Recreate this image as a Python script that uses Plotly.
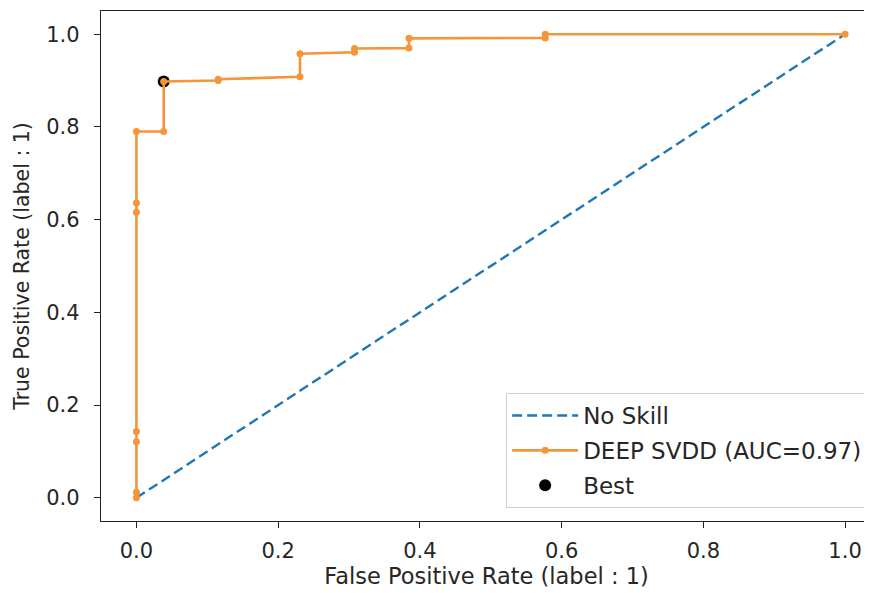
import plotly.graph_objects as go

# ROC data
no_skill_fpr = [0.0, 1.0]
no_skill_tpr = [0.0, 1.0]

fpr = [0.0, 0.0, 0.0, 0.0, 0.0, 0.0, 0.0, 0.0385, 0.0385, 0.1154, 0.1154,
       0.2308, 0.2308, 0.3077, 0.3077, 0.3846, 0.3846, 0.5769, 0.5769, 1.0]
tpr = [0.0, 0.012, 0.121, 0.143, 0.616, 0.636, 0.790, 0.790, 0.898, 0.900, 0.903,
       0.908, 0.958, 0.961, 0.969, 0.970, 0.991, 0.992, 1.0, 1.0]

best_fpr = [0.0385]
best_tpr = [0.898]

x_ticks = [0.0, 0.2, 0.4, 0.6, 0.8, 1.0]
y_ticks = [0.0, 0.2, 0.4, 0.6, 0.8, 1.0]

FONT = "DejaVu Sans"
TXT = "#262626"

fig = go.Figure()

fig.add_trace(go.Scatter(
    x=best_fpr, y=best_tpr, mode="markers", name="Best",
    marker=dict(color="black", size=12),
    legendrank=3, legendgroup="c",
))
fig.add_trace(go.Scatter(
    x=no_skill_fpr, y=no_skill_tpr, mode="lines", name="No Skill",
    line=dict(color="#1f77b4", width=2.4, dash="10px,5px"),
    legendrank=1, legendgroup="a",
))
fig.add_trace(go.Scatter(
    x=fpr, y=tpr, mode="lines+markers", name="DEEP SVDD (AUC=0.97)",
    line=dict(color="#f5953a", width=2.6),
    marker=dict(color="#f5953a", size=7),
    legendrank=2, legendgroup="b",
))

# the page body has an 8px margin, so the figure is sized/margined to compensate
fig.update_layout(
    width=864, height=585,
    margin=dict(l=93, r=0, t=3, b=72, autoexpand=False),
    paper_bgcolor="white", plot_bgcolor="white",
    font=dict(family=FONT, size=21, color=TXT),
    showlegend=True,
    legend=dict(
        x=0.995, y=0.0255, xanchor="right", yanchor="bottom",
        bgcolor="rgba(255,255,255,0.8)", bordercolor="#d0d0d0", borderwidth=1,
        font=dict(family=FONT, size=23, color=TXT),
        tracegroupgap=2, itemwidth=66,
    ),
)

fig.update_xaxes(
    range=[-0.05, 1.038], tickvals=x_ticks, ticktext=[f"{v:.1f}" for v in x_ticks],
    showgrid=False, zeroline=False, automargin=False,
    showline=True, mirror=True, linecolor="#222", linewidth=1.3,
    ticks="outside", ticklen=6, tickwidth=1.2, tickcolor="#222",
    ticklabelstandoff=5,
    title=dict(text="False Positive Rate (label : 1)", standoff=0,
               font=dict(family=FONT, size=22.5, color=TXT)),
    tickfont=dict(family=FONT, size=21, color=TXT),
)
fig.update_yaxes(
    range=[-0.05, 1.05], tickvals=y_ticks, ticktext=[f"{v:.1f}" for v in y_ticks],
    showgrid=False, zeroline=False, automargin=False,
    showline=True, mirror=True, linecolor="#222", linewidth=1.3,
    ticks="outside", ticklen=6, tickwidth=1.2, tickcolor="#222",
    ticklabelstandoff=10,
    title=dict(text="True Positive Rate (label : 1)", standoff=11,
               font=dict(family=FONT, size=20.5, color=TXT)),
    tickfont=dict(family=FONT, size=21, color=TXT),
)

fig.write_html("out.html")
